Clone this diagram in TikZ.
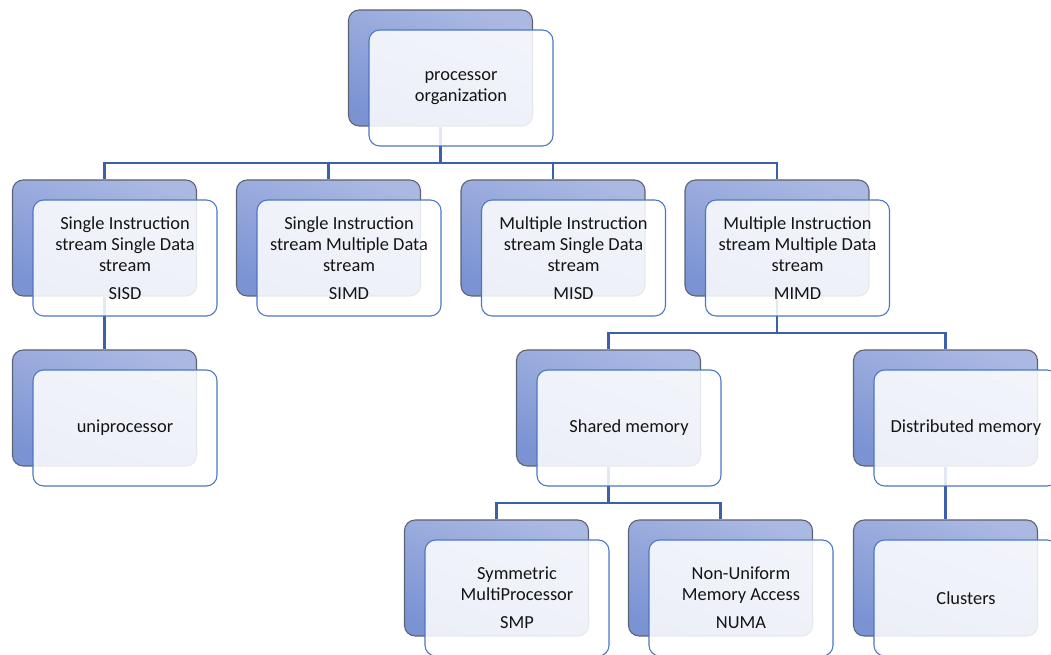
\documentclass[tikz,border=0pt]{standalone}
\usepackage{fontspec}
\setmainfont{Carlito}
\usetikzlibrary{calc}

\definecolor{connblue}{HTML}{3C60AA}
\definecolor{frontedge}{HTML}{4A76C6}
\definecolor{backedge}{HTML}{5C6270}
\definecolor{backtop}{HTML}{AAB8E2}
\definecolor{backbot}{HTML}{7B93D3}
\definecolor{labelink}{HTML}{141414}

\tikzset{
  backbox/.style={draw=backedge, line width=0.8pt, rounded corners=8pt,
    minimum width=138pt, minimum height=87pt, inner sep=0pt,
    top color=backtop, bottom color=backbot, shading angle=-20},
  frontbox/.style={draw=frontedge, line width=0.8pt, rounded corners=8pt,
    fill=white, fill opacity=0.86, text opacity=1, text=labelink,
    minimum width=138pt, minimum height=87pt, inner sep=2pt, align=center,
    font=\fontsize{13.8}{15.8}\selectfont},
  conn/.style={draw=connblue, line width=1.8pt},
}

\begin{document}
\begin{tikzpicture}[x=0.75pt, y=-0.75pt]
\path[use as bounding box] (0,0) rectangle (1051,655);
\clip (0,0) rectangle (1051,655);

% shaded back plates
\node[backbox] (topB)  at (440.5, 68) {};
\node[backbox] (sisdB) at (104.5,238) {};
\node[backbox] (simdB) at (328.5,238) {};
\node[backbox] (misdB) at (553,  238) {};
\node[backbox] (mimdB) at (777,  238) {};
\node[backbox] (uniB)  at (104.5,408) {};
\node[backbox] (shmB)  at (608.5,408) {};
\node[backbox] (dsmB)  at (945.5,408) {};
\node[backbox] (smpB)  at (496.5,578) {};
\node[backbox] (numaB) at (720.5,578) {};
\node[backbox] (clsB)  at (945.5,578) {};

% bus levels of the tree
\coordinate (busA) at (0,163);
\coordinate (busB) at (0,333);
\coordinate (busC) at (0,503);

% connectors
\draw[conn] (topB.south) -- (topB.south |- busA) -| (sisdB.north);
\draw[conn] (topB.south) -- (topB.south |- busA) -| (simdB.north);
\draw[conn] (topB.south) -- (topB.south |- busA) -| (misdB.north);
\draw[conn] (topB.south) -- (topB.south |- busA) -| (mimdB.north);
\draw[conn] (sisdB.south) -- (uniB.north);
\draw[conn] (mimdB.south) -- (mimdB.south |- busB) -| (shmB.north);
\draw[conn] (mimdB.south) -- (mimdB.south |- busB) -| (dsmB.north);
\draw[conn] (shmB.south) -- (shmB.south |- busC) -| (smpB.north);
\draw[conn] (shmB.south) -- (shmB.south |- busC) -| (numaB.north);
\draw[conn] (dsmB.south) -- (clsB.south |- busC) -- (clsB.north);

% text panels
\node[frontbox] (top)  at ($(topB)+(20.5,20)$)  {processor\\organization};
\node[frontbox] (sisd) at ($(sisdB)+(20.5,20)$) {Single Instruction\\stream Single Data\\stream\\[5pt]SISD};
\node[frontbox] (simd) at ($(simdB)+(20.5,20)$) {Single Instruction\\stream Multiple Data\\stream\\[5pt]SIMD};
\node[frontbox] (misd) at ($(misdB)+(20.5,20)$) {Multiple Instruction\\stream Single Data\\stream\\[5pt]MISD};
\node[frontbox] (mimd) at ($(mimdB)+(20.5,20)$) {Multiple Instruction\\stream Multiple Data\\stream\\[5pt]MIMD};
\node[frontbox] (uni)  at ($(uniB)+(20.5,20)$)  {uniprocessor};
\node[frontbox] (shm)  at ($(shmB)+(20.5,20)$)  {Shared memory};
\node[frontbox] (dsm)  at ($(dsmB)+(20.5,20)$)  {Distributed memory};
\node[frontbox] (smp)  at ($(smpB)+(20.5,20)$)  {Symmetric\\MultiProcessor\\[5pt]SMP};
\node[frontbox] (numa) at ($(numaB)+(20.5,20)$) {Non-Uniform\\Memory Access\\[5pt]NUMA};
\node[frontbox] (cls)  at ($(clsB)+(20.5,20)$)  {Clusters};
\end{tikzpicture}
\end{document}
